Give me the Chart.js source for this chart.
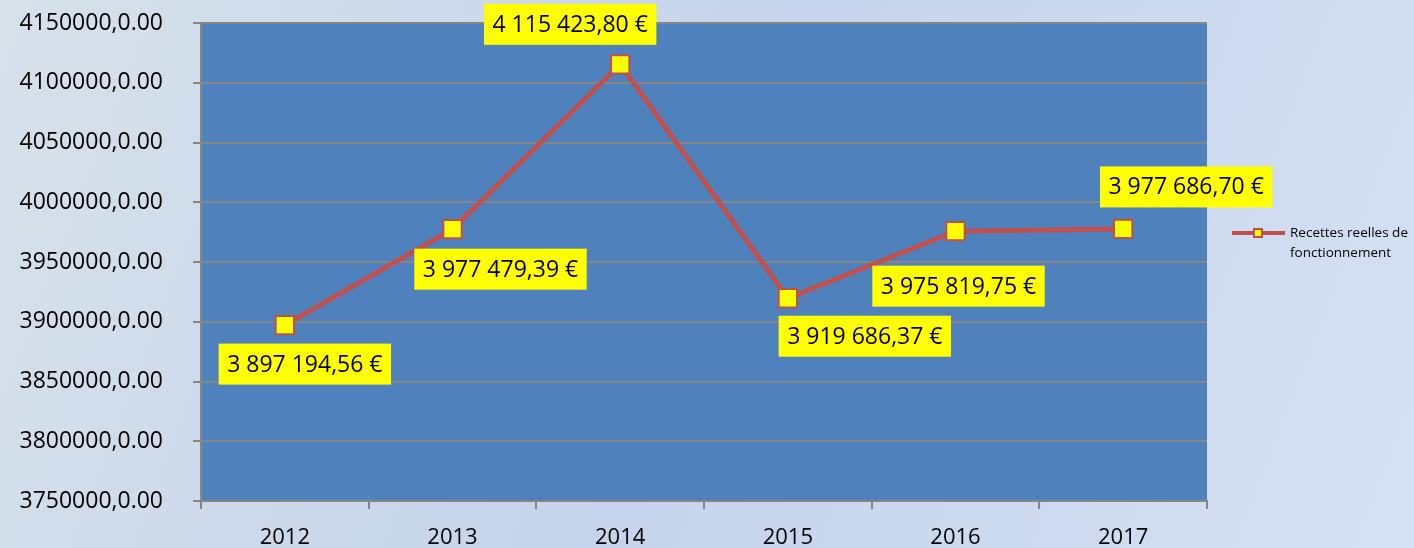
<!doctype html>
<html lang="fr">
  <head>
    <meta charset="utf-8">
    <title>Recettes reelles de fonctionnement</title>
    <style>
    html, body { margin: 0; padding: 0; }
    #wrap { width: 1414px; height: 548px; }
    </style>
  </head>
  <body>
    <div id="wrap">
      <canvas id="canvas" width="1414" height="548"></canvas>
    </div>
    <script src="https://cdn.jsdelivr.net/npm/chart.js@4"></script>
    <script>
    // data
    const years = ['2012', '2013', '2014', '2015', '2016', '2017'];
    const recettes = [3897194.56, 3977479.39, 4115423.80, 3919686.37, 3975819.75, 3977686.70];
    const valueLabels = ['3 897 194,56 €', '3 977 479,39 €', '4 115 423,80 €', '3 919 686,37 €', '3 975 819,75 €', '3 977 686,70 €'];
    const seriesName = ['Recettes reelles de', 'fonctionnement'];
    const yMin = 3750000, yMax = 4150000, yStep = 50000;

    // where each yellow label sits relative to its point
    const labelOffsets = [[20, 39], [48, 40], [-50, -40], [77, 38], [3, 55], [63, -42]];

    const FONT = '"Open Sans", sans-serif';
    const RED = '#C0504D';

    const backdrop = {
      id: 'backdrop',
      beforeDraw(chart) {
        const {ctx, width, height, chartArea: a} = chart;
        ctx.save();
        const g = ctx.createLinearGradient(0, 0, width, height);
        g.addColorStop(0, '#D7E1EA');
        g.addColorStop(0.5, '#C5D4EC');
        g.addColorStop(1, '#D5E1F3');
        ctx.fillStyle = g;
        ctx.fillRect(0, 0, width, height);
        ctx.fillStyle = '#4F81BD';
        ctx.fillRect(a.left, a.top, a.right - a.left, a.bottom - a.top);
        ctx.restore();
      }
    };

    const valueTags = {
      id: 'valueTags',
      afterDatasetsDraw(chart) {
        const {ctx} = chart;
        const pts = chart.getDatasetMeta(0).data;
        ctx.save();
        ctx.font = '23px ' + FONT;
        ctx.textAlign = 'center';
        ctx.textBaseline = 'middle';
        pts.forEach((p, i) => {
          const cx = p.x + labelOffsets[i][0];
          const cy = p.y + labelOffsets[i][1];
          const w = ctx.measureText(valueLabels[i]).width + 17;
          const h = 41;
          ctx.fillStyle = '#FFFF00';
          ctx.fillRect(cx - w / 2, cy - h / 2, w, h);
          ctx.fillStyle = '#000';
          ctx.fillText(valueLabels[i], cx, cy + 1);
        });
        ctx.restore();
      }
    };

    const sideLegend = {
      id: 'sideLegend',
      afterDraw(chart) {
        const {ctx} = chart;
        const y = 233;
        ctx.save();
        ctx.strokeStyle = RED;
        ctx.lineWidth = 4;
        ctx.beginPath();
        ctx.moveTo(1232, y);
        ctx.lineTo(1285, y);
        ctx.stroke();
        ctx.fillStyle = '#FFFF00';
        ctx.lineWidth = 2;
        ctx.fillRect(1254, y - 4, 8, 8);
        ctx.strokeRect(1254, y - 4, 8, 8);
        ctx.fillStyle = '#000';
        ctx.font = '13.5px ' + FONT;
        ctx.textAlign = 'left';
        ctx.textBaseline = 'middle';
        ctx.fillText(seriesName[0], 1290, y);
        ctx.fillText(seriesName[1], 1290, y + 20);
        ctx.restore();
      }
    };

    new Chart(document.getElementById('canvas'), {
      type: 'line',
      data: {
        labels: years,
        datasets: [{
          label: seriesName.join(' '),
          data: recettes,
          borderColor: RED,
          borderWidth: 5,
          pointStyle: 'rect',
          pointRadius: 13,
          pointHoverRadius: 13,
          pointBackgroundColor: '#FFFF00',
          pointBorderColor: RED,
          pointBorderWidth: 2,
          tension: 0
        }]
      },
      options: {
        responsive: false,
        animation: false,
        events: [],
        layout: { padding: { left: 0, top: 23, right: 207, bottom: 0 } },
        plugins: {
          legend: { display: false },
          tooltip: { enabled: false }
        },
        scales: {
          x: {
            offset: true,
            grid: { offset: true, drawOnChartArea: false, color: '#868686', lineWidth: 2, tickLength: 8 },
            border: { color: '#868686', width: 2 },
            ticks: { color: '#000', font: { family: FONT, size: 22 }, padding: 16, maxRotation: 0 },
            afterFit(scale) { scale.height = 47; }
          },
          y: {
            min: yMin,
            max: yMax,
            grid: { color: '#868686', lineWidth: 2, tickLength: 8 },
            border: { color: '#868686', width: 2 },
            ticks: {
              stepSize: yStep,
              color: '#000',
              font: { family: FONT, size: 23 },
              padding: 30,
              callback: (v) => v + ',0.00'
            },
            afterFit(scale) {
              scale.width = 201;
              scale.paddingTop = 0;
              scale.paddingBottom = 0;
            }
          }
        }
      },
      plugins: [backdrop, valueTags, sideLegend]
    });
    </script>
  </body>
</html>
